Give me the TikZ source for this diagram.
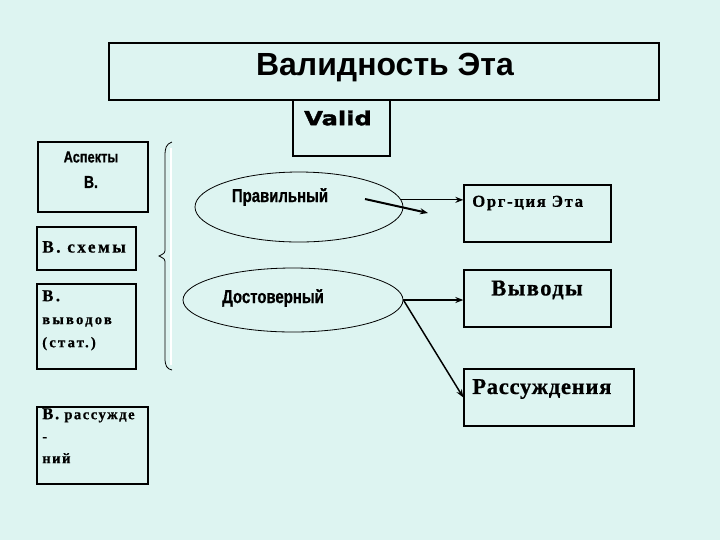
\documentclass[tikz,border=0pt]{standalone}
\usepackage{fontspec}
\usetikzlibrary{shapes.geometric,arrows.meta}
\setmainfont{Liberation Serif}
\newfontfamily\sansb{Liberation Sans Bold}
\newfontfamily\narrowb[FakeStretch=0.8,FakeBold=0.8]{Liberation Sans Bold}
\newfontfamily\blackf[FakeStretch=1.25,FakeBold=2]{DejaVu Sans Bold}
\newfontfamily\spserif[LetterSpace=10,FakeBold=0.6]{Liberation Serif Bold}
\newfontfamily\spserifa[LetterSpace=6,FakeBold=0.6]{Liberation Serif Bold}
\newfontfamily\spserifb[LetterSpace=3,FakeBold=0.6]{Liberation Serif Bold}
\newfontfamily\spserifc[LetterSpace=14,FakeBold=0.6]{Liberation Serif Bold}
\newfontfamily\spserifw[LetterSpace=15,FakeBold=0.6]{Liberation Serif Bold}
\definecolor{bg}{HTML}{DDF4F1}
\tikzset{
  box/.style 2 args={draw=black, line width=1pt, rectangle, inner sep=0pt,
     minimum width={#1*0.75pt}, minimum height={#2*0.75pt}},
  oval/.style 2 args={draw=black, line width=0.6pt, ellipse, inner sep=0pt,
     minimum width={#1*0.75pt}, minimum height={#2*0.75pt}},
  txt/.style={inner sep=0pt, text=black},
  arr/.style={-{Stealth[length=6pt,width=4.5pt]}, line width=#1},
  arr/.default=0.8pt
}
\begin{document}
\begin{tikzpicture}[x=0.75pt,y=-0.75pt]
\fill[bg] (0,0) rectangle (720,540);
\useasboundingbox (0,0) rectangle (720,540);
% boxes
\node[box={550}{57}] (title) at (384,71.5) {};
\node[box={97}{56}] (valid) at (341.5,128) {};
\node[box={110}{70}] (asp) at (93,177) {};
\node[box={99}{43}] (sch) at (86.5,248.5) {};
\node[box={99}{85}] (vyvl) at (86.5,326.5) {};
\node[box={111}{77}] (rasl) at (92.5,445.5) {};
\node[box={147}{57}] (org) at (537.5,213.5) {};
\node[box={147}{57}] (vyv) at (537.5,298.5) {};
\node[box={170}{57}] (ras) at (549,397.5) {};
% ellipses
\node[oval={208}{70}] (e1) at (299,207) {};
\node[oval={220}{64}] (e2) at (293,300) {};
% texts
\node[txt] (tTitle) at (385,68) {\sansb\fontsize{24}{28}\selectfont Валидность Эта};
\node[txt] (tValid) at (338,118) {\blackf\fontsize{14.5}{16}\selectfont Valid};
\node[txt] (tAsp1) at (91,157) {\narrowb\fontsize{12}{14}\selectfont Аспекты};
\node[txt] (tAsp2) at (91,182) {\narrowb\fontsize{13}{14}\selectfont В.};
\node[txt,anchor=west] (tSch) at (42,247) {\spserifc\fontsize{13}{14}\selectfont В. схемы};
\node[txt,anchor=north west,align=left,font=\spserifw\fontsize{11}{17.25}\selectfont] (tVyvl) at (42,290)
  {{\fontsize{12.5}{17.25}\selectfont В.}\\ выводов\\ (стат.)};
\node[txt,anchor=north west,align=left,font=\spserif\fontsize{11}{16.5}\selectfont] (tRasl) at (42,408)
  {{\fontsize{12.5}{16.5}\selectfont В.} рассужде\\ -\\ ний};
\node[txt] (tPrav) at (280,197) {\narrowb\fontsize{14}{16}\selectfont Правильный};
\node[txt] (tDost) at (273,298) {\narrowb\fontsize{14}{16}\selectfont Достоверный};
\node[txt,anchor=west] (tOrg) at (472,203) {\spserif\fontsize{12.5}{14}\selectfont Орг-ция Эта};
\node[txt] (tVyv) at (537,290) {\spserifa\fontsize{17}{20}\selectfont Выводы};
\node[txt,anchor=west] (tRas) at (472,389) {\spserifb\fontsize{17}{20}\selectfont Рассуждения};
% brace with highlight
\draw[white, line width=1.8pt] (171,148) -- (171,365);
\draw[black, line width=0.6pt] (172,142) .. controls (166,144) and (165,148) .. (165,156)
  -- (165,248) .. controls (165,253) .. (159,256)
  .. controls (165,259) .. (165,264) -- (165,358)
  .. controls (165,366) and (167,369) .. (172,370);
% connectors
\coordinate (a1s) at (365,199);
\coordinate (a1e) at (428,213);
\draw[arr=1.5pt] (a1s) -- (a1e);
\draw[arr=0.8pt] (e1.4.5) -- (e1.4.5 -| org.west);
\draw[arr=1.5pt] (e2.east) -- (e2.east -| vyv.west);
\draw[arr=1.1pt] (e2.east) -- (ras.west);
\end{tikzpicture}
\end{document}
